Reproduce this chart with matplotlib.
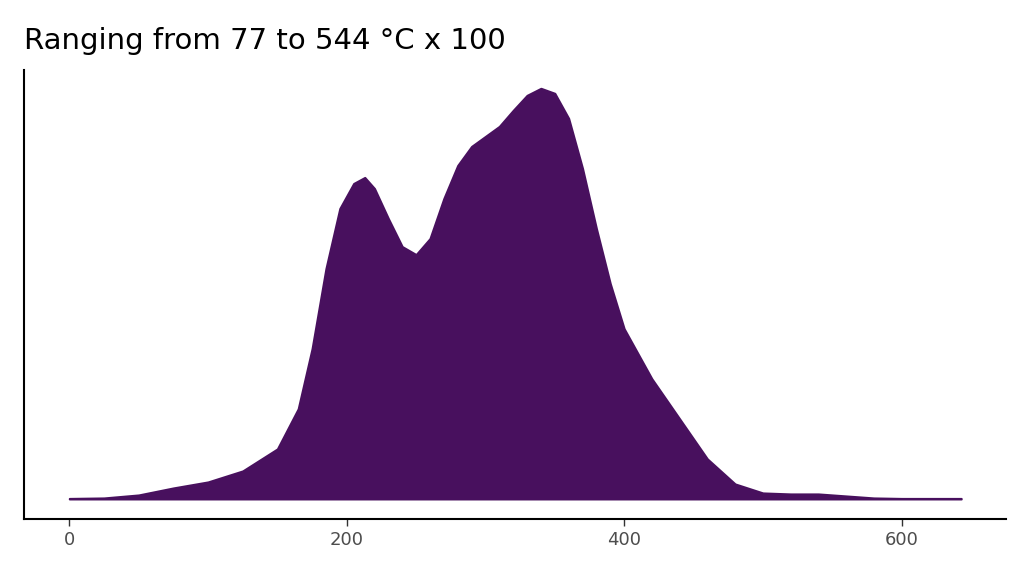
import numpy as np
import matplotlib.pyplot as plt

# density curve (x in °C x 100 units, height arbitrary)
temp = [0, 25, 50, 75, 100, 125, 150, 165, 175, 185, 195, 205, 213, 220, 230,
        240, 250, 260, 270, 280, 290, 300, 310, 320, 330, 340, 350, 360, 370,
        380, 390, 400, 420, 440, 460, 480, 500, 520, 540, 560, 580, 600, 643]
density = [0.5, 1, 4, 11, 17, 28, 50, 90, 150, 230, 290, 315, 321, 310, 280,
           252, 244, 260, 300, 333, 352, 362, 372, 388, 403, 410, 405, 380, 330,
           270, 215, 170, 120, 80, 40, 15, 6, 5, 5, 3, 1, 0.5, 0.5]

fig, ax = plt.subplots(figsize=(10.24, 5.76), dpi=100)
fig.subplots_adjust(left=0.023, right=0.982, top=0.878, bottom=0.099)

color = "#48105e"
ax.fill_between(temp, 0, density, color=color, linewidth=1.5, edgecolor=color)

ax.set_xlim(-33, 675)
ax.set_ylim(-20, 428)
ax.set_xticks([0, 200, 400, 600])
ax.set_yticks([])
ax.tick_params(axis="x", labelsize=13, colors="#4d4d4d", length=5, width=1)
ax.tick_params(axis="x", color="#333333")
for s in ["top", "right"]:
    ax.spines[s].set_visible(False)
for s in ["left", "bottom"]:
    ax.spines[s].set_linewidth(1.5)

fig.text(0.023, 0.915, "Ranging from 77 to 544 °C x 100", fontsize=21, ha="left")

plt.savefig("out.png")
